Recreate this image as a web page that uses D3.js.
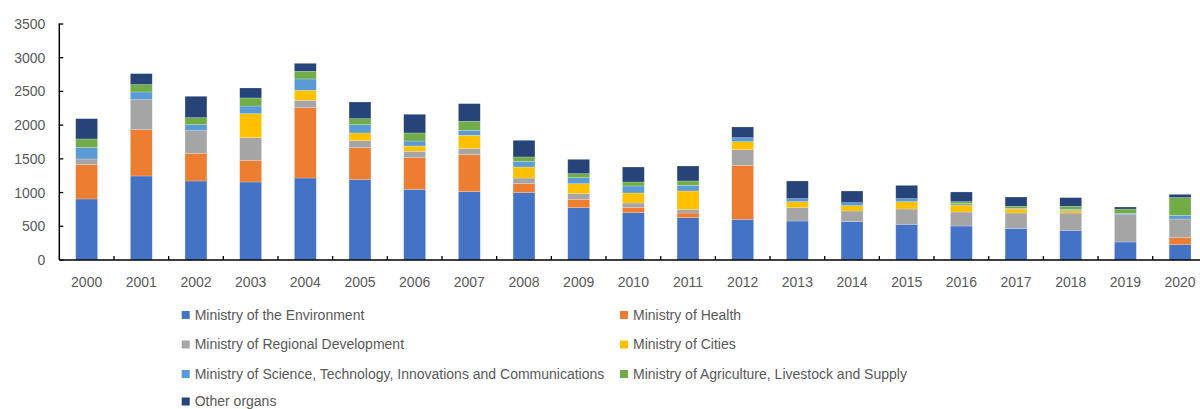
<!DOCTYPE html>
<html>
<head>
<meta charset="utf-8">
<script src="https://cdn.jsdelivr.net/npm/d3@7/dist/d3.min.js"></script>
<style>
  html, body { margin: 0; padding: 0; background: #fff; }
  svg { display: block; font-family: "Liberation Sans", Arial, sans-serif; }
</style>
</head>
<body>
<svg id="chart" width="1200" height="409"></svg>
<script>
// ---- data ----
const years = ["2000","2001","2002","2003","2004","2005","2006","2007","2008","2009","2010",
               "2011","2012","2013","2014","2015","2016","2017","2018","2019","2020"];
const environment = [905,1246,1172,1157,1216,1196,1048,1014,999,776,702,628,603,578,569,529,504,465,440,267,227];
const health      = [509,687,405,321,1043,470,470,548,133,124,74,69,801,0,0,0,0,0,0,0,104];
const regional    = [84,445,341,336,109,104,94,89,84,84,69,54,232,198,158,227,208,232,257,405,277];
const cities      = [0,0,0,356,149,114,79,198,163,148,149,272,119,89,79,109,104,59,35,0,0];
const science     = [173,114,89,114,168,123,74,74,84,89,104,84,59,45,44,45,20,10,19,20,54];
const agriculture = [124,109,104,119,113,89,119,134,65,59,59,65,0,0,0,0,29,30,45,64,263];
const other       = [301,163,317,148,119,247,277,262,247,213,222,222,159,262,173,197,144,138,129,30,49];
const seriesNames = ["Ministry of the Environment","Ministry of Health","Ministry of Regional Development",
                     "Ministry of Cities","Ministry of Science, Technology, Innovations and Communications",
                     "Ministry of Agriculture, Livestock and Supply","Other organs"];
const yTicks = [0,500,1000,1500,2000,2500,3000,3500];

// ---- build ----
const seriesData = [environment, health, regional, cities, science, agriculture, other];
const keys = seriesNames;
const colors = ["#4472C4","#ED7D31","#A5A5A5","#FFC000","#5B9BD5","#70AD47","#264478"];

const table = years.map((yr, i) => {
  const row = { year: yr };
  keys.forEach((k, j) => row[k] = seriesData[j][i]);
  return row;
});
const stack = d3.stack().keys(keys)(table);

const svg = d3.select("#chart");
const plotLeft = 59.3, plotRight = 1207.4, plotTop = 24, plotBottom = 260;

const x = d3.scaleBand().domain(years).range([plotLeft, plotRight]).paddingInner(0.6).paddingOuter(0.3);
const y = d3.scaleLinear().domain([0, 3500]).range([plotBottom, plotTop]);
const color = d3.scaleOrdinal().domain(keys).range(colors);

// bars
svg.append("g").selectAll("g").data(stack).join("g")
  .attr("fill", d => color(d.key))
  .selectAll("rect").data(d => d).join("rect")
  .attr("x", d => x(d.data.year))
  .attr("width", x.bandwidth())
  .attr("y", d => y(d[1]))
  .attr("height", d => Math.max(0, y(d[0]) - y(d[1])))
  .attr("stroke", "#ffffff")
  .attr("stroke-opacity", 0.35)
  .attr("stroke-width", 0.6);

// y axis
const yAxis = svg.append("g").attr("transform", `translate(${plotLeft},0)`)
  .call(d3.axisLeft(y).tickValues(yTicks).tickSize(0).tickPadding(14).tickFormat(d3.format("d")));
yAxis.select(".domain").remove();
yAxis.selectAll("text").attr("fill", "#595959").style("font-size", "14px");
svg.append("g").selectAll("line").data(yTicks).join("line")
  .attr("x1", plotLeft).attr("x2", plotLeft + 4)
  .attr("y1", d => y(d)).attr("y2", d => y(d))
  .attr("stroke", "#000").attr("stroke-width", 1.3);
svg.append("line").attr("x1", plotLeft).attr("x2", plotLeft).attr("y1", plotTop - 0.5).attr("y2", plotBottom)
  .attr("stroke", "#000").attr("stroke-width", 1.5);

// x axis
const xAxis = svg.append("g").attr("transform", `translate(0,${plotBottom})`)
  .call(d3.axisBottom(x).tickSize(0).tickPadding(17));
xAxis.select(".domain").remove();
xAxis.selectAll("text").attr("fill", "#595959").style("font-size", "14px");
const step = x.step();
const boundaries = years.map(yr => x(yr) - step * x.paddingOuter());
svg.append("g").selectAll("line").data(boundaries.slice(1)).join("line")
  .attr("x1", d => d).attr("x2", d => d)
  .attr("y1", plotBottom - 4).attr("y2", plotBottom)
  .attr("stroke", "#000").attr("stroke-width", 1.3);
svg.append("line").attr("x1", plotLeft).attr("x2", 1200).attr("y1", plotBottom).attr("y2", plotBottom)
  .attr("stroke", "#000").attr("stroke-width", 1.5);

// legend
const legendPos = [
  [181.7, 315], [620, 315],
  [181.7, 344.5], [620, 344.5],
  [181.7, 374], [620, 374],
  [181.7, 401.5]
];
const lg = svg.append("g").selectAll("g").data(keys).join("g")
  .attr("transform", (d, i) => `translate(${legendPos[i][0]},${legendPos[i][1]})`);
lg.append("rect").attr("x", 0).attr("y", -4).attr("width", 8).attr("height", 8)
  .attr("fill", d => color(d));
lg.append("text").attr("x", 13).attr("y", 0).attr("dy", "0.35em")
  .attr("fill", "#595959").style("font-size", "14px").text(d => d);
</script>
</body>
</html>
